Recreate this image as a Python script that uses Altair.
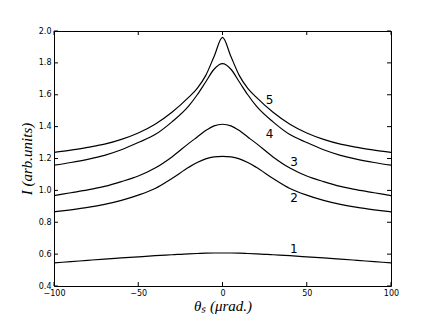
import altair as alt
import pandas as pd

# curve samples
xs = [-100, -90, -80, -70, -60, -50, -40, -30, -20, -15, -10, -5, 0,
      5, 10, 15, 20, 30, 40, 50, 60, 70, 80, 90, 100]
c5 = [1.238, 1.252, 1.27, 1.29, 1.32, 1.36, 1.415, 1.49, 1.585, 1.64, 1.72, 1.84, 1.96,
      1.84, 1.72, 1.64, 1.585, 1.49, 1.415, 1.36, 1.32, 1.29, 1.27, 1.252, 1.238]
c4 = [1.158, 1.175, 1.195, 1.22, 1.255, 1.30, 1.35, 1.43, 1.53, 1.60, 1.68, 1.76, 1.795,
      1.76, 1.68, 1.60, 1.53, 1.43, 1.35, 1.30, 1.255, 1.22, 1.195, 1.175, 1.158]
c3 = [0.967, 0.985, 1.003, 1.025, 1.055, 1.09, 1.14, 1.21, 1.295, 1.335, 1.375, 1.405, 1.415,
      1.405, 1.375, 1.335, 1.295, 1.21, 1.14, 1.09, 1.055, 1.025, 1.003, 0.985, 0.967]
c2 = [0.865, 0.878, 0.893, 0.912, 0.937, 0.97, 1.012, 1.075, 1.145, 1.175, 1.198, 1.21, 1.213,
      1.21, 1.198, 1.175, 1.145, 1.075, 1.012, 0.97, 0.937, 0.912, 0.893, 0.878, 0.865]
c1 = [0.545, 0.553, 0.561, 0.569, 0.576, 0.583, 0.59, 0.596, 0.602, 0.604, 0.606, 0.607, 0.607,
      0.607, 0.606, 0.604, 0.602, 0.596, 0.59, 0.583, 0.576, 0.569, 0.561, 0.553, 0.545]

label_text = ["5", "4", "3", "2", "1"]
label_x = [28, 28, 42.5, 42.5, 42.3]
label_y = [1.565, 1.353, 1.175, 0.951, 0.632]

xticks = [-100, -50, 0, 50, 100]
yticks = [0.4, 0.6, 0.8, 1.0, 1.2, 1.4, 1.6, 1.8, 2.0]

W, H = 337, 255
TL = 4

rows = []
for name, vals in [("1", c1), ("2", c2), ("3", c3), ("4", c4), ("5", c5)]:
    for x, v in zip(xs, vals):
        rows.append({"curve": name, "x": x, "y": v})
df = pd.DataFrame(rows)
lab = pd.DataFrame({"t": label_text, "x": label_x, "y": label_y})
xt = pd.DataFrame({"x": xticks})
yt = pd.DataFrame({"y": yticks})

xscale = alt.Scale(domain=[-100, 100], nice=False, zero=False)
yscale = alt.Scale(domain=[0.4, 2.0], nice=False, zero=False)

xaxis = alt.Axis(values=xticks, ticks=False, domain=False, grid=False,
                 labelFont="DejaVu Sans", labelFontSize=8, labelColor="black",
                 labelPadding=3, labelFlush=False, labelOverlap=False,
                 title="θₛ  (μrad.)", titleFont="Liberation Serif", titleFontStyle="italic",
                 titleFontWeight="normal", titleFontSize=15, titleColor="black",
                 titleX=W / 2, titleY=24, titleBaseline="alphabetic", titleAlign="center")
yaxis = alt.Axis(values=yticks, format=".1f", ticks=False, domain=False, grid=False,
                 labelFont="DejaVu Sans", labelFontSize=8, labelColor="black",
                 labelPadding=3, labelFlush=False, labelOverlap=False,
                 title="I (arb.units)", titleFont="Liberation Serif", titleFontStyle="italic",
                 titleFontWeight="normal", titleFontSize=15, titleColor="black",
                 titleX=-28, titleY=H / 2, titleAngle=270, titleBaseline="middle",
                 titleAlign="center")

X = lambda: alt.X("x:Q", scale=xscale, axis=xaxis)
Y = lambda: alt.Y("y:Q", scale=yscale, axis=yaxis)

lines = alt.Chart(df).mark_line(color="black", strokeWidth=1.2, interpolate="monotone").encode(
    x=X(), y=Y(), detail="curve:N",
)

labels = alt.Chart(lab).mark_text(font="DejaVu Sans", fontSize=12, color="black").encode(
    x=X(), y=Y(), text="t:N")

tk = dict(color="black", strokeWidth=1)
lt = alt.Chart(yt).mark_rule(**tk).encode(y=Y(), x=alt.value(0), x2=alt.value(TL))
rt = alt.Chart(yt).mark_rule(**tk).encode(y=Y(), x=alt.value(W - TL), x2=alt.value(W))
bt = alt.Chart(xt).mark_rule(**tk).encode(x=X(), y=alt.value(H - TL), y2=alt.value(H))
tt = alt.Chart(xt).mark_rule(**tk).encode(x=X(), y=alt.value(0), y2=alt.value(TL))

chart = alt.layer(lines, labels, lt, rt, bt, tt).properties(
    width=W, height=H,
    autosize=alt.AutoSizeParams(type="none"),
    padding={"left": 46, "top": 23, "right": 30, "bottom": 30},
    background="white",
).configure_view(stroke="black", strokeWidth=1)

chart.save("out.html", embed_options={"renderer": "svg", "actions": False})
